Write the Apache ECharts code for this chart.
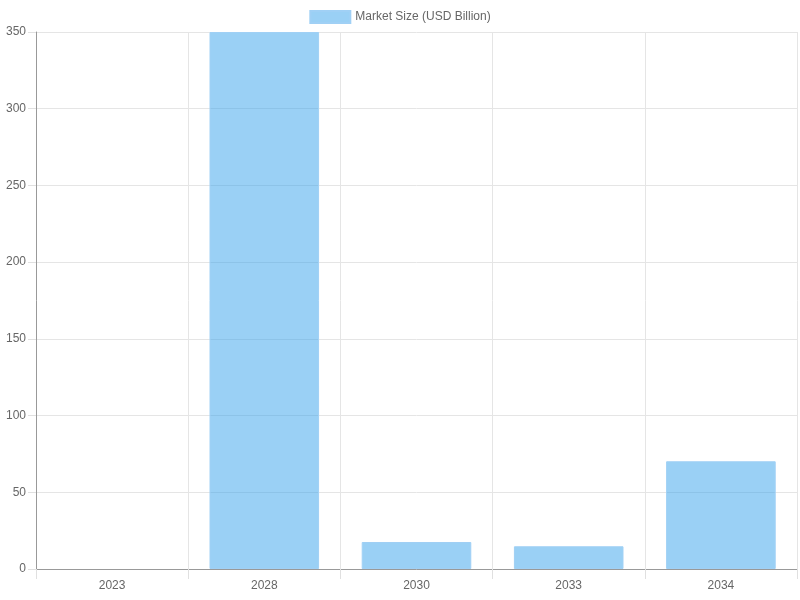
<!DOCTYPE html>
<html>
<head>
<meta charset="utf-8">
<script src="https://cdn.jsdelivr.net/npm/echarts@6/dist/echarts.min.js"></script>
<style>
  html, body { margin: 0; padding: 0; background: #fff; }
  #chart { width: 800px; height: 600px; }
</style>
</head>
<body>
<div id="chart"></div>
<script>
// 数据
var years = ['2023', '2028', '2030', '2033', '2034'];
var marketSize = [0, 350, 17.6, 14.8, 70.2];
var seriesName = 'Market Size (USD Billion)';

var myChart = echarts.init(document.getElementById('chart'));
var option = {
    animation: false,
    textStyle: { fontFamily: 'Liberation Sans, Arial, sans-serif' },
    legend: {
        top: 5,
        left: 'center',
        icon: 'rect',
        itemWidth: 40,
        itemHeight: 12,
        itemGap: 10,
        textStyle: { color: '#666', fontSize: 12 },
        data: [seriesName]
    },
    grid: {
        left: 36,
        right: 3,
        top: 32,
        bottom: 31,
        containLabel: false
    },
    xAxis: {
        type: 'category',
        data: years,
        boundaryGap: true,
        axisLine: { show: true, lineStyle: { color: '#999' } },
        axisTick: { show: true, length: 10, alignWithLabel: false, lineStyle: { color: '#e0e0e0' } },
        axisLabel: { color: '#666', fontSize: 12, margin: 11 },
        splitLine: { show: true, lineStyle: { color: '#e5e5e5' } }
    },
    yAxis: {
        type: 'value',
        min: 0,
        max: 350,
        interval: 50,
        axisLine: { show: true, lineStyle: { color: '#999' } },
        axisTick: { show: true, length: 8, lineStyle: { color: '#e0e0e0' } },
        axisLabel: { color: '#666', fontSize: 12, margin: 10, padding: [3, 0, 0, 0] },
        splitLine: { show: true, lineStyle: { color: '#e5e5e5' } }
    },
    series: [
        {
            name: seriesName,
            type: 'bar',
            barWidth: '72%',
            itemStyle: {
                color: 'rgba(54,162,235,0.5)',
                borderColor: 'rgba(160,208,245,1)',
                borderWidth: 1
            },
            // 0 值不画边框
            data: marketSize.map(function (v) {
                return v === 0 ? { value: v, itemStyle: { borderWidth: 0 } } : v;
            })
        }
    ]
};
myChart.setOption(option);
</script>
</body>
</html>
